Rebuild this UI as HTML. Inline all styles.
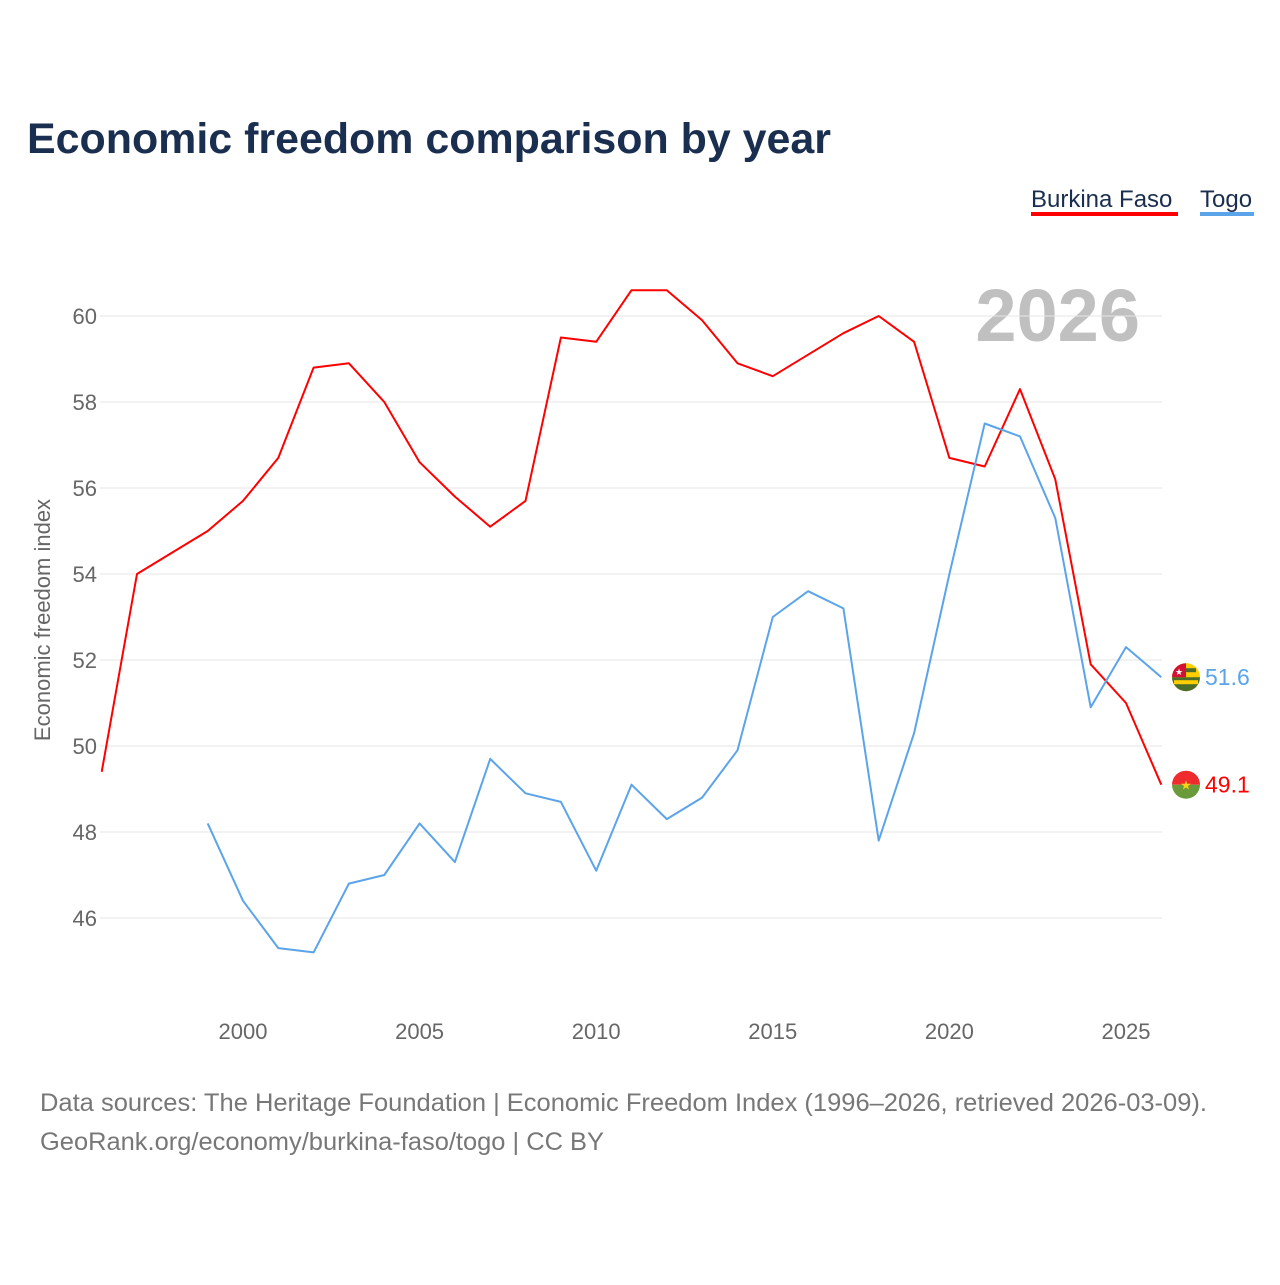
<!DOCTYPE html>
<html><head><meta charset="utf-8"><style>
body{margin:0;background:#fff;font-family:"Liberation Sans",sans-serif}
svg text{font-family:"Liberation Sans",sans-serif}
</style></head><body>
<svg id="c" width="1280" height="1280" viewBox="0 0 1280 1280" xmlns="http://www.w3.org/2000/svg">
<text x="27" y="153" font-size="43" font-weight="bold" fill="#1a2e4f" textLength="804" lengthAdjust="spacingAndGlyphs">Economic freedom comparison by year</text>
<g><text x="1031" y="207" font-size="24" fill="#1a2e4f">Burkina Faso</text><rect x="1031" y="212" width="147" height="4" fill="#ff0000"/></g>
<g><text x="1200" y="207" font-size="24" fill="#1a2e4f">Togo</text><rect x="1200" y="212" width="54" height="4" fill="#5ba4ea"/></g>
<text x="1140" y="341" font-size="74" font-weight="bold" fill="#c0c0c0" text-anchor="end">2026</text>
<g id="grid"></g><g id="xt"></g>
<text transform="translate(50,620) rotate(-90)" font-size="22" fill="#666" text-anchor="middle">Economic freedom index</text>
<g id="lines"></g>
<text x="40" y="1111" font-size="25" fill="#777" textLength="1167" lengthAdjust="spacingAndGlyphs">Data sources: The Heritage Foundation | Economic Freedom Index (1996–2026, retrieved 2026-03-09).</text>
<text x="40" y="1150" font-size="25" fill="#777" textLength="564" lengthAdjust="spacingAndGlyphs">GeoRank.org/economy/burkina-faso/togo | CC BY</text>
</svg>
<script>
const years=[1996,1997,1998,1999,2000,2001,2002,2003,2004,2005,2006,2007,2008,2009,2010,2011,2012,2013,2014,2015,2016,2017,2018,2019,2020,2021,2022,2023,2024,2025,2026];
const burkina=[49.4,54.0,54.5,55.0,55.7,56.7,58.8,58.9,58.0,56.6,55.8,55.1,55.7,59.5,59.4,60.6,60.6,59.9,58.9,58.6,59.1,59.6,60.0,59.4,56.7,56.5,58.3,56.2,51.9,51.0,49.1];
const togo=[null,null,null,48.2,46.4,45.3,45.2,46.8,47.0,48.2,47.3,49.7,48.9,48.7,47.1,49.1,48.3,48.8,49.9,53.0,53.6,53.2,47.8,50.3,54.0,57.5,57.2,55.3,50.9,52.3,51.6];
const yTicks=[46,48,50,52,54,56,58,60];
const xTicks=[2000,2005,2010,2015,2020,2025];
const NS="http://www.w3.org/2000/svg";
const X=y=>101.7+(y-1996)*35.32, Y=v=>316+(60-v)*43;
function mk(t,a,p){const e=document.createElementNS(NS,t);for(const k in a)e.setAttribute(k,a[k]);p.appendChild(e);return e;}
const g=document.getElementById('grid');
yTicks.forEach(v=>{
 const l=mk('line',{x1:100,x2:1162,y1:Y(v),y2:Y(v),stroke:'#e6e6e6','stroke-width':1},g);
 
 
 const t=mk('text',{x:97,y:Y(v)+8,'font-size':22,fill:'#666','text-anchor':'end'},g);t.textContent=v;
 
 
});
const xt=document.getElementById('xt');
xTicks.forEach(v=>{
 const t=mk('text',{x:X(v),y:1039,'font-size':22,fill:'#666','text-anchor':'middle'},xt);t.textContent=v;
 
 
});
const L=document.getElementById('lines');
function line(arr,col,name){
 let d='';arr.forEach((v,i)=>{if(v==null)return;d+=(d?'L':'M')+X(years[i]).toFixed(1)+','+Y(v).toFixed(1);});
 const p=mk('path',{d:d,fill:'none',stroke:col,'stroke-width':2,'stroke-linejoin':'round'},L);
 
 
 const last=arr[arr.length-1];
 const t=mk('text',{x:1205,y:Y(last)+8,'font-size':23,fill:col},L);t.textContent=last.toFixed(1);
 
 
 return Y(last);
}
const yb=line(burkina,'#ff0000','burkina-faso');
const yt=line(togo,'#5ba4ea','togo');
const cx=1186;
const fb=mk('g',{},L);


mk('path',{d:`M${cx-14},${yb}A14,14 0 0 1 ${cx+14},${yb}Z`,fill:'#ef2b2d'},fb);
mk('path',{d:`M${cx-14},${yb}A14,14 0 0 0 ${cx+14},${yb}Z`,fill:'#6a9a3a'},fb);
mk('text',{x:cx,y:yb+5,'font-size':13,fill:'#fcd116','text-anchor':'middle'},fb).textContent='★';
const ft=mk('g',{},L);


mk('circle',{cx:cx,cy:yt,r:14,fill:'#ffce00'},ft);
mk('path',{d:`M${cx-14},${yt}A14,14 0 0 0 ${cx+14},${yt}Z`,fill:'#4a6d2a'},ft);
mk('rect',{x:cx-12,y:yt+3,width:24,height:4,fill:'#ffce00'},ft);
mk('rect',{x:cx-10,y:yt-9,width:20,height:4,fill:'#4a6d2a'},ft);
mk('path',{d:`M${cx-14},${yt}A14,14 0 0 1 ${cx},${yt-14}L${cx},${yt}Z`,fill:'#d21034'},ft);
mk('text',{x:cx-7,y:yt-2,'font-size':9,fill:'#fff','text-anchor':'middle'},ft).textContent='★';
</script>
</body></html>
